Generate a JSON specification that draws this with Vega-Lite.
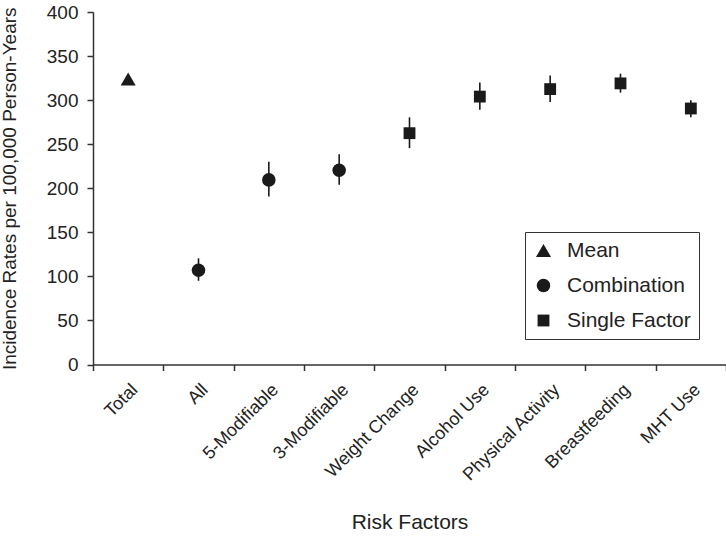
{
  "$schema": "https://vega.github.io/schema/vega-lite/v6.json",
  "width": 633,
  "height": 352.5,
  "autosize": {"type": "none"},
  "padding": {"left": 93, "top": 12, "right": 0, "bottom": 177.5},
  "background": "white",
  "config": {
    "view": {"stroke": null},
    "font": "Liberation Sans",
    "axis": {
      "domainColor": "#333333",
      "domainWidth": 1.5,
      "tickColor": "#333333",
      "tickWidth": 1.5,
      "tickSize": 6,
      "labelColor": "#222222",
      "titleColor": "#222222",
      "titleFontWeight": "normal",
      "grid": false
    }
  },
  "data": {
    "values": [
      {"factor": "Total", "group": "Mean", "rate": 324, "lo": 319, "hi": 328},
      {"factor": "All", "group": "Combination", "rate": 107, "lo": 95, "hi": 120.5},
      {"factor": "5-Modifiable", "group": "Combination", "rate": 209.5, "lo": 190.5, "hi": 230},
      {"factor": "3-Modifiable", "group": "Combination", "rate": 220.5, "lo": 204, "hi": 238.5},
      {"factor": "Weight Change", "group": "Single Factor", "rate": 262.5, "lo": 245.5, "hi": 280.5},
      {"factor": "Alcohol Use", "group": "Single Factor", "rate": 304, "lo": 289, "hi": 320},
      {"factor": "Physical Activity", "group": "Single Factor", "rate": 312.5, "lo": 298, "hi": 328},
      {"factor": "Breastfeeding", "group": "Single Factor", "rate": 319, "lo": 308.5, "hi": 330},
      {"factor": "MHT Use", "group": "Single Factor", "rate": 290.5, "lo": 280.5, "hi": 300}
    ]
  },
  "encoding": {
    "x": {
      "field": "factor",
      "type": "nominal",
      "sort": null,
      "scale": {"type": "band", "paddingInner": 0, "paddingOuter": 0},
      "axis": {
        "title": "Risk Factors",
        "titleFontSize": 21,
        "titlePadding": 27,
        "labelFontSize": 18,
        "labelAngle": -45,
        "labelAlign": "right",
        "labelBaseline": "top",
        "labelPadding": 10,
        "tickBand": "extent"
      }
    }
  },
  "layer": [
    {
      "mark": {"type": "rule", "color": "#1a1a1a", "strokeWidth": 1.6},
      "encoding": {
        "y": {"field": "lo", "type": "quantitative"},
        "y2": {"field": "hi"}
      }
    },
    {
      "mark": {"type": "point", "filled": true, "color": "#1a1a1a", "opacity": 1},
      "encoding": {
        "y": {
          "field": "rate",
          "type": "quantitative",
          "scale": {"domain": [0, 400], "nice": false},
          "axis": {
            "title": "Incidence Rates per 100,000 Person-Years",
            "titleFontSize": 19,
            "titlePadding": 27,
            "labelFontSize": 19,
            "labelPadding": 9,
            "values": [0, 50, 100, 150, 200, 250, 300, 350, 400]
          }
        },
        "shape": {
          "field": "group",
          "type": "nominal",
          "scale": {"domain": ["Mean", "Combination", "Single Factor"], "range": ["triangle-up", "circle", "square"]},
          "legend": {
            "title": null,
            "orient": "none",
            "legendX": 432,
            "legendY": 220,
            "strokeColor": "#333333",
            "fillColor": "white",
            "padding": 8,
            "rowPadding": 13,
            "labelFontSize": 21,
            "labelColor": "#222222",
            "labelOffset": 13,
            "symbolStrokeWidth": 0,
            "symbolFillColor": "#1a1a1a"
          }
        },
        "size": {
          "field": "group",
          "type": "nominal",
          "scale": {"domain": ["Mean", "Combination", "Single Factor"], "range": [225, 140, 170]},
          "legend": {
            "title": null,
            "orient": "none",
            "legendX": 432,
            "legendY": 220,
            "strokeColor": "#333333",
            "fillColor": "white",
            "padding": 8,
            "rowPadding": 13,
            "labelFontSize": 21,
            "labelColor": "#222222",
            "labelOffset": 13,
            "symbolStrokeWidth": 0,
            "symbolFillColor": "#1a1a1a"
          }
        }
      }
    }
  ]
}
